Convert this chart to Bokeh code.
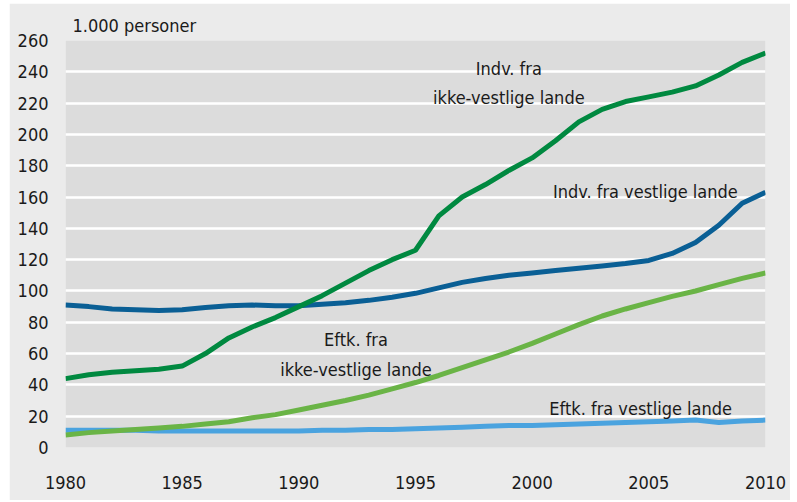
from bokeh.plotting import figure
from bokeh.models import FixedTicker, Label, ColumnDataSource
from bokeh.embed import file_html
from bokeh.resources import INLINE

years = list(range(1980, 2011))

indv_ikke_vestlige = [44, 46.5, 48, 49, 50, 52, 60, 70, 77, 83, 90, 97, 105, 113, 120, 126,
                      148, 160, 168, 177, 185, 196, 208, 216, 221, 224, 227, 231, 238, 246, 252]
indv_vestlige = [91, 90, 88.5, 88, 87.5, 88, 89.5, 90.5, 91, 90.5, 90.5, 91.5, 92.5, 94, 96, 98.5,
                 102, 105.5, 108, 110, 111.5, 113, 114.5, 116, 117.5, 119.5, 124, 131, 142, 156, 163]
eftk_ikke_vestlige = [8, 9.5, 10.5, 11.5, 12.5, 13.5, 15, 16.5, 19, 21, 24, 27, 30, 33.5, 37.5, 41.5,
                      46, 51, 56, 61, 66.5, 72.5, 78.5, 84, 88.5, 92.5, 96.5, 100, 104, 108, 111.5]
eftk_vestlige = [11, 11, 11, 11, 10.5, 10.5, 10.5, 10.5, 10.5, 10.5, 10.5, 11, 11, 11.5, 11.5, 12,
                 12.5, 13, 13.5, 14, 14, 14.5, 15, 15.5, 16, 16.5, 17, 17.5, 16, 17, 17.5]

x_ticks = [1980, 1985, 1990, 1995, 2000, 2005, 2010]
y_ticks = list(range(0, 261, 20))
unit_label = "1.000 personer"

series_labels = [
    ("Indv. fra", 1999.0, 242),
    ("ikke-vestlige lande", 1999.0, 223.5),
    ("Indv. fra vestlige lande", 2004.85, 163.3),
    ("Eftk. fra", 1992.45, 69.2),
    ("ikke-vestlige lande", 1992.45, 50.1),
    ("Eftk. fra vestlige lande", 2004.65, 25),
]

FONT = "'DejaVu Sans Condensed', 'Open Sans', sans-serif"
TXT = "#1a1a1a"
FS = "18px"

p = figure(width=781, height=497, output_backend="svg", toolbar_location=None,
           x_range=(1980, 2010), y_range=(0, 260),
           min_border_left=56, min_border_right=25, min_border_top=37, min_border_bottom=53)
p.styles = {"margin-left": "9px", "margin-top": "3px"}
p.background_fill_color = "#dcdcdc"
p.border_fill_color = "#ebebeb"
p.outline_line_color = None

p.title.text = unit_label
p.title.align = "left"
p.title.offset = 7
p.title.standoff = 9
p.title.text_font = FONT
p.title.text_font_size = FS
p.title.text_font_style = "normal"
p.title.text_color = TXT

p.xgrid.grid_line_color = None
p.ygrid.grid_line_color = "white"
p.ygrid.grid_line_width = 2.5
p.ygrid.ticker = FixedTicker(ticks=y_ticks)

p.xaxis.ticker = FixedTicker(ticks=x_ticks)
p.yaxis.ticker = FixedTicker(ticks=y_ticks)
for ax in (p.xaxis[0], p.yaxis[0]):
    ax.axis_line_color = None
    ax.major_tick_line_color = None
    ax.minor_tick_line_color = None
    ax.major_tick_out = 0
    ax.major_tick_in = 0
    ax.minor_tick_out = 0
    ax.major_label_text_font = FONT
    ax.major_label_text_font_size = FS
    ax.major_label_text_color = TXT
p.yaxis.major_label_standoff = 17
p.xaxis.major_label_standoff = 28

src = ColumnDataSource(dict(year=years, a=indv_ikke_vestlige, b=indv_vestlige,
                            c=eftk_ikke_vestlige, d=eftk_vestlige))
p.line("year", "d", source=src, line_color="#4aa3df", line_width=5)
p.line("year", "c", source=src, line_color="#6ab446", line_width=5)
p.line("year", "b", source=src, line_color="#0a5f95", line_width=5)
p.line("year", "a", source=src, line_color="#008940", line_width=5)

for txt, xx, yy in series_labels:
    p.add_layout(Label(x=xx, y=yy, text=txt, text_align="center", text_baseline="middle",
                       text_font=FONT, text_font_size=FS, text_color=TXT))

open("out.html", "w").write(file_html(p, INLINE))
